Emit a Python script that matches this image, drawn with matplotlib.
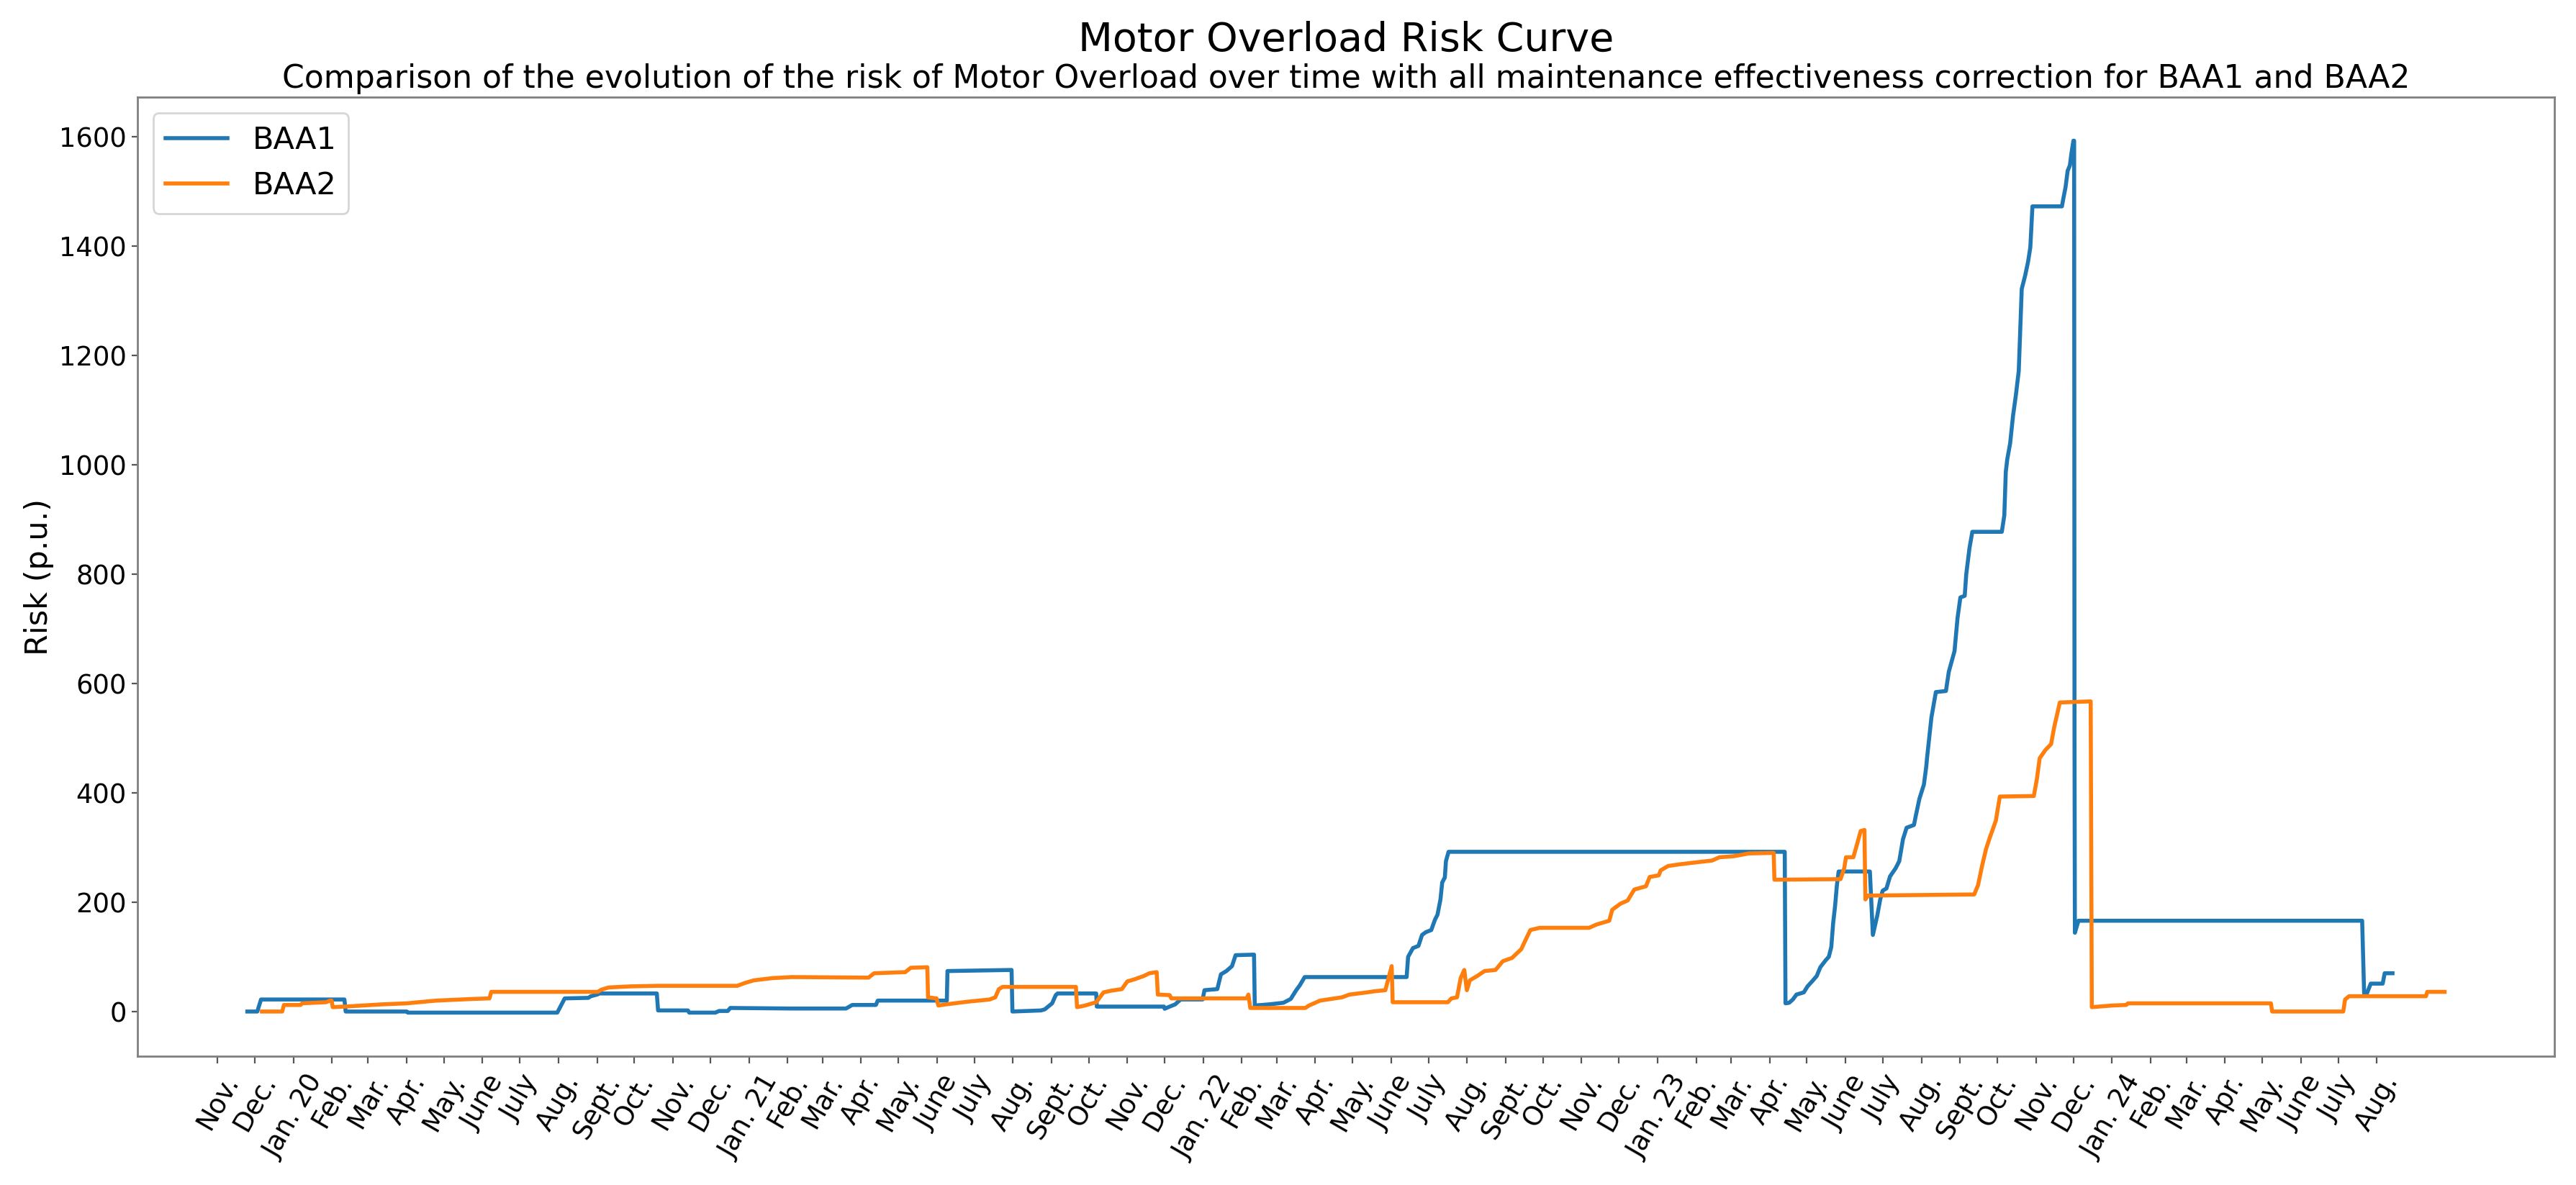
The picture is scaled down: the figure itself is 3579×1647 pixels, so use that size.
import numpy as np
import pandas as pd
import matplotlib
matplotlib.use("Agg")
import matplotlib.pyplot as plt

# ---------------- data ----------------
# day offsets are days since 2019-11-01
base_date = "2019-11-01"

baa1_days = [24, 32, 35, 102, 103, 152, 153, 273, 279, 298, 300, 305, 307, 353, 354,
             378, 379, 400, 403, 410, 412,
             461, 505, 510, 529, 530.5, 586, 586.5, 638, 638.7, 661.7, 664.7, 670.6,
             673.5, 675, 706, 706.5, 760.5, 761, 765, 769.4, 773.8, 791.5, 793, 803.3,
             806.2, 810.6, 815.1, 818, 832.8, 833.4, 844.6, 856.4, 862.3, 866.7, 869.6,
             873.5, 923.6, 955.4, 956.6, 960.5, 964.9, 967.8, 970.8, 975.2, 978.2, 980.2,
             982.6, 984, 986.1, 987, 989.1, 1259.2, 1259.8, 1262.7, 1265.7, 1268.6,
             1274.5, 1277.5, 1281.9, 1284.9, 1287.8, 1292.2, 1294.6, 1296.6, 1298.1,
             1299.6, 1301.1, 1302.5, 1327.6, 1330, 1333.5, 1335.9, 1337.9, 1340.9,
             1343.8, 1348.3, 1351.2, 1354.2, 1357.1, 1363, 1364.5, 1367.4, 1371,
             1372.9, 1373.5, 1377, 1380.6, 1388.7, 1391, 1395.6, 1398, 1400.3, 1403.8,
             1405, 1407.6, 1409.9, 1433.6, 1435.6, 1436.8, 1438, 1440.3, 1442.6, 1444.9,
             1447.2, 1448.4, 1449.6, 1452.4, 1454.7, 1456.5, 1458.2, 1481.9, 1483,
             1484.8, 1486.5, 1488.3, 1489.4, 1491.1, 1491.7, 1492.0, 1492.3, 1495.2,
             1723.1, 1724.7, 1726.9, 1730, 1739.6, 1741.2, 1747.5]
baa1_risk = [0, 0, 22, 22, 0, 0, -2, -2, 24, 25, 28, 31, 33, 33, 2,
             2, -2, -2, 1, 1, 6.5,
             5.5, 5.5, 12, 12, 20, 20, 74, 76, 0, 2, 4, 15,
             30, 33, 33, 9, 9, 5, 9, 13, 22, 22, 39, 41,
             68, 74, 83, 103, 104, 11, 13, 16, 23, 39, 48,
             63, 63, 63, 100, 116, 120, 140, 145, 149, 168, 177,
             205, 236, 245, 275, 292, 292, 15, 16, 22, 31,
             35, 46, 57, 65, 81, 94, 100, 118, 162,
             192, 231, 256, 256, 140, 175, 205, 221, 225,
             247, 262, 275, 315, 336, 341, 358, 389, 415,
             448, 463, 537, 584, 586, 621, 659, 719, 757, 760,
             799, 847, 877, 877, 907, 987, 1010, 1039, 1089, 1127,
             1171, 1246, 1321, 1346, 1371, 1397, 1472, 1472, 1486,
             1507, 1537, 1547, 1567, 1592, 1592, 500, 144, 166,
             166, 33, 33, 51, 51, 70, 70]

baa2_days = [35.7, 52, 53.4, 66.7, 68.1, 87.3, 90.3, 91.7, 92.6, 102, 116.8, 131.5,
             152.2, 175.8, 205.3, 218.5, 220, 305.5, 308.5, 314.4, 332, 352.7, 417.6,
             423.5, 430.9, 445.6, 461.2, 523.1, 527.6, 552.6, 557, 570.3, 570.9, 577.7,
             579.2, 585, 602.8, 620.4, 624.9, 627.8, 630.8, 689.7, 690.6, 697.1, 706,
             711.9, 717.8, 726.6, 731, 736.9, 744.3, 748.7, 754.6, 755.5, 765, 766.4,
             826.9, 828.3, 829.8, 874, 877, 885.9, 903.5, 909.4, 923.6, 929.5, 938.3,
             943.4, 944.2, 988.5, 991.4, 995.9, 998.8, 1001.7, 1003.8, 1006.2, 1012.1,
             1018, 1026.8, 1032.7, 1040.1, 1047.5, 1051, 1054.8, 1062.2, 1102, 1107.9,
             1118.2, 1120.6, 1127.1, 1133, 1138.3, 1147.7, 1150.7, 1158, 1159.5, 1165.4,
             1174.3, 1189, 1200.8, 1206.7, 1218.5, 1230.3, 1250.3, 1250.9, 1304, 1307,
             1308.4, 1314.3, 1317.3, 1320.2, 1323.2, 1324, 1326.1, 1411.4, 1414.5,
             1417.7, 1420.9, 1424.1, 1428.8, 1432, 1459.3, 1461.7, 1464, 1468.6,
             1473.2, 1475.6, 1477.9, 1480.2, 1505, 1505.9, 1522.4, 1533.5, 1535,
             1649.8, 1650.8, 1707.9, 1709.4, 1712.6, 1774.4, 1775.4, 1789.3]
baa2_risk = [0, 0, 12, 12, 15, 17, 20, 20, 8, 9, 11, 13,
             15, 20, 23, 24, 36, 36, 40, 44, 46, 47, 47,
             52, 57, 61, 63, 62, 70, 72, 80, 81, 26, 24,
             11, 13, 18, 22, 26, 41, 45, 45, 8, 11, 17,
             35, 38, 41, 55, 59, 65, 70, 72, 31, 30, 24,
             24, 31, 6.5, 6.5, 11, 20, 26, 31, 35, 37, 39,
             83, 17, 17, 24, 26, 61, 76, 39, 57, 65,
             74, 76, 92, 98, 114, 131, 149, 153, 153, 159,
             166, 186, 197, 203, 223, 229, 246, 249, 258, 266,
             269, 273, 276, 282, 284, 289, 290, 241, 242, 262,
             282, 282, 306, 330, 332, 205, 212, 214, 231,
             266, 297, 319, 349, 393, 394, 424, 463, 478,
             489, 519, 542, 565, 567, 8, 11, 12, 15,
             15, 0, 0, 22, 28, 28, 36, 36]

series_labels = ["BAA1", "BAA2"]

tick_dates = pd.date_range("2019-11-01", "2024-08-01", freq="MS")
tick_labels = ["Nov.", "Dec.",
               "Jan. 20", "Feb.", "Mar.", "Apr.", "May.", "June", "July", "Aug.", "Sept.", "Oct.", "Nov.", "Dec.",
               "Jan. 21", "Feb.", "Mar.", "Apr.", "May.", "June", "July", "Aug.", "Sept.", "Oct.", "Nov.", "Dec.",
               "Jan. 22", "Feb.", "Mar.", "Apr.", "May.", "June", "July", "Aug.", "Sept.", "Oct.", "Nov.", "Dec.",
               "Jan. 23", "Feb.", "Mar.", "Apr.", "May.", "June", "July", "Aug.", "Sept.", "Oct.", "Nov.", "Dec.",
               "Jan. 24", "Feb.", "Mar.", "Apr.", "May.", "June", "July", "Aug."]

title = "Motor Overload Risk Curve"
subtitle = ("Comparison of the evolution of the risk of Motor Overload over time with all "
            "maintenance effectiveness correction for BAA1 and BAA2")
ylabel = "Risk (p.u.)"

# ---------------- plot ----------------
plt.rcParams["font.family"] = ["DejaVu Sans"]
W, H, DPI = 3580, 1647, 200
fig = plt.figure(figsize=(W / DPI, H / DPI), dpi=DPI)
ax = fig.add_axes([191 / W, 1 - 1468 / H, (3549 - 191) / W, (1468 - 135) / H])

t0 = pd.Timestamp(base_date)
x1 = t0 + pd.to_timedelta(np.array(baa1_days), unit="D")
x2 = t0 + pd.to_timedelta(np.array(baa2_days), unit="D")
ax.plot(x1, baa1_risk, color="#1f77b4", lw=2.0, label=series_labels[0])
ax.plot(x2, baa2_risk, color="#ff7f0e", lw=2.0, label=series_labels[1])

ax.set_xticks(tick_dates)
ax.set_xticklabels(tick_labels, rotation=60, fontsize=13.3)
ax.set_yticks(np.arange(0, 1601, 200))
ax.tick_params(axis="y", labelsize=13.3, length=3, pad=2.5, color="#555555")
ax.tick_params(axis="x", length=3.5, pad=3.5, color="#555555")
for s in ax.spines.values():
    s.set_color("#808080")
    s.set_linewidth(1.0)

ax.set_ylabel(ylabel, fontsize=15.5)
ax.yaxis.set_label_coords((75 - 191) / (3549 - 191), 0.5)

ax.legend(loc="upper left", fontsize=15.5)

cx = (191 + 3549) / 2 / W
fig.text(cx, 1 - 71 / H, title, ha="center", va="baseline", fontsize=20)
fig.text(cx, 1 - 122 / H, subtitle, ha="center", va="baseline", fontsize=15.9)

fig.savefig("out.png", dpi=DPI)
